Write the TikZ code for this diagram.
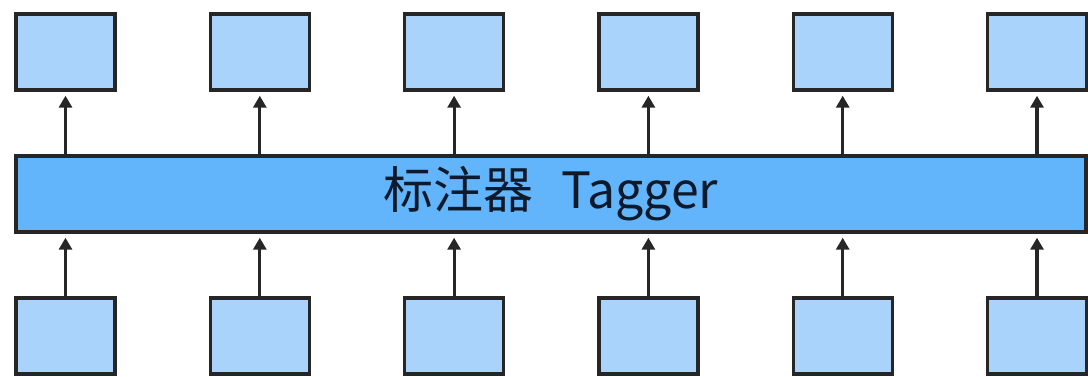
\documentclass[tikz,border=0pt]{standalone}
\usepackage{fontspec}
\setmainfont{Noto Sans CJK SC}
\usetikzlibrary{arrows.meta}
\begin{document}
\begin{tikzpicture}[x=1pt,y=-1pt,
  tok/.style={draw=black!85,line width=3.4pt,fill=boxblue,minimum width=99pt,minimum height=76pt,inner sep=0pt},
  bar/.style={draw=black!85,line width=3.4pt,fill=barblue,minimum width=1070pt,minimum height=76pt,inner sep=0pt},
  arr/.style={draw=black!85,line width=3.2pt,-{Triangle[length=12pt,width=13pt]},shorten >=4pt}]
\definecolor{boxblue}{HTML}{A9D3FB}
\definecolor{barblue}{HTML}{62B5FA}
\definecolor{txt}{HTML}{0E1A2B}
\useasboundingbox (0,0) rectangle (1088,377);
\node[bar,text=txt] (tagger) at (551,194) {\fontsize{50}{56}\selectfont 标注器\hspace{0.55em}Tagger};
\foreach \i in {0,...,5} {
  \pgfmathsetmacro{\cx}{65.5+194.3*\i}
  \node[tok] (out\i) at (\cx,52) {};
  \node[tok] (in\i) at (\cx,336) {};
  \draw[arr] (in\i.north) -- (in\i.north |- tagger.south);
  \draw[arr] (out\i.south |- tagger.north) -- (out\i.south);
}
\end{tikzpicture}
\end{document}
